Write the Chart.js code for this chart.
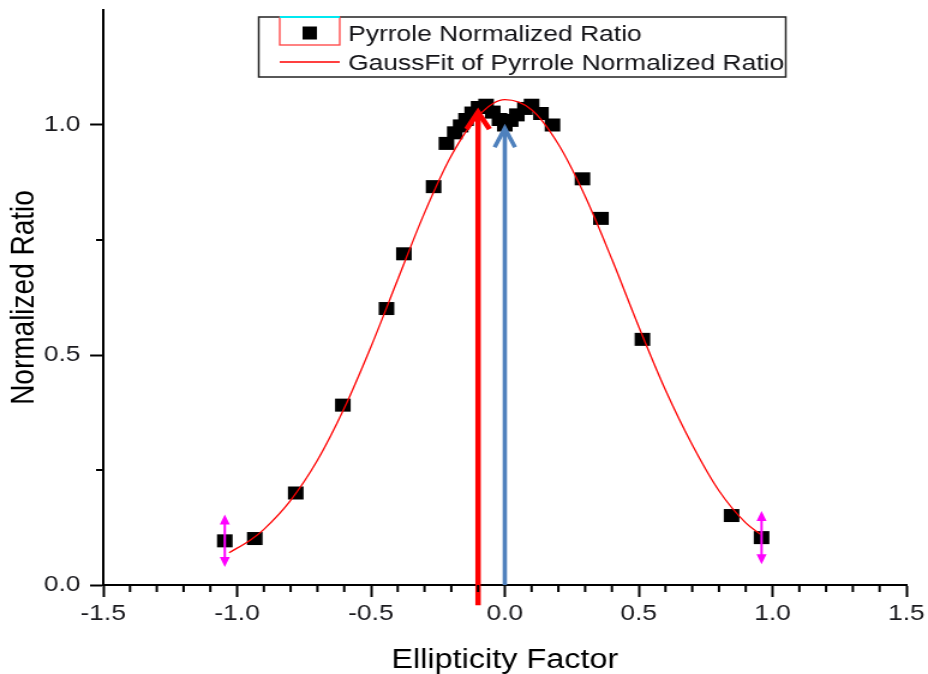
<!DOCTYPE html>
<html>
<head>
<meta charset="utf-8">
<title>Pyrrole Normalized Ratio</title>
<script src="https://cdn.jsdelivr.net/npm/chart.js@4.4.1/dist/chart.umd.min.js"></script>
<style>
  html, body { margin: 0; padding: 0; background: #fff; overflow: hidden; }
  /* the plot is laid out on a narrower canvas and widened horizontally */
  #wrap { width: 773px; height: 674px; transform: scaleX(1.2005); transform-origin: 0 0; }
</style>
</head>
<body>
<div id="wrap"><canvas id="chart"></canvas></div>
<script>
// measured points: ellipticity factor vs normalized ratio
const pointX = [-1.046, -0.934, -0.781, -0.605, -0.442, -0.377, -0.266, -0.218, -0.187, -0.165,
                -0.145, -0.122, -0.098, -0.070, -0.045, -0.020, 0.000, 0.022, 0.045, 0.075,
                 0.100, 0.135, 0.178, 0.290, 0.359, 0.514, 0.847, 0.959];
const pointY = [0.096, 0.101, 0.200, 0.391, 0.601, 0.720, 0.866, 0.960, 0.983, 0.998,
                1.012, 1.026, 1.038, 1.043, 1.028, 1.012, 1.000, 1.010, 1.022, 1.036,
                1.043, 1.025, 1.000, 0.883, 0.797, 0.534, 0.151, 0.103];

// Gaussian fit curve
const fitX = [-1.03, -0.95, -0.90, -0.80, -0.70, -0.60, -0.50, -0.40, -0.30, -0.20, -0.10,
               0.00, 0.10, 0.20, 0.30, 0.40, 0.50, 0.60, 0.70, 0.80, 0.90, 0.955];
const fitY = [0.070, 0.098, 0.121, 0.184, 0.271, 0.384, 0.518, 0.664, 0.809, 0.933, 1.019,
              1.055, 1.033, 0.958, 0.845, 0.708, 0.562, 0.424, 0.305, 0.205, 0.135, 0.110];

// error bars on the two outermost points
const errorIndex = [0, 27];
const errorDelta = [0.057, 0.058];

// marker arrows: red = fitted centre, blue = zero ellipticity
const arrowX = [-0.10, 0.00];
const arrowTop = [1.028, 0.993];
const arrowBase = [-0.044, 0.000];

const xTicks = [-1.5, -1.0, -0.5, 0.0, 0.5, 1.0, 1.5];
const xMinorTicks = [-1.4, -1.3, -1.2, -1.1, -0.9, -0.8, -0.7, -0.6, -0.4, -0.3, -0.2, -0.1,
                      0.1, 0.2, 0.3, 0.4, 0.6, 0.7, 0.8, 0.9, 1.1, 1.2, 1.3, 1.4];
const yTicks = [0.0, 0.5, 1.0];
const yMinorTicks = [0.25, 0.75];

const legendLabels = ['Pyrrole Normalized Ratio', 'GaussFit of Pyrrole Normalized Ratio'];
const xTitle = 'Ellipticity Factor';
const yTitle = 'Normalized Ratio';

const FONT = '"Liberation Sans", Arial, Helvetica, sans-serif';

const minorTicks = {
  id: 'minorTicks',
  afterDraw(chart) {
    const { ctx, chartArea, scales } = chart;
    ctx.save();
    ctx.strokeStyle = '#000';
    ctx.lineWidth = 2;
    ctx.beginPath();
    xMinorTicks.forEach(v => {
      const px = scales.x.getPixelForValue(v);
      ctx.moveTo(px, chartArea.bottom);
      ctx.lineTo(px, chartArea.bottom + 7);
    });
    yMinorTicks.forEach(v => {
      const py = scales.y.getPixelForValue(v);
      ctx.moveTo(chartArea.left, py);
      ctx.lineTo(chartArea.left - 6, py);
    });
    ctx.stroke();
    ctx.restore();
  }
};

const annotations = {
  id: 'annotations',
  afterDatasetsDraw(chart) {
    const { ctx, scales } = chart;
    const xs = scales.x, ys = scales.y;
    ctx.save();

    // arrows
    const arrowStyle = [
      { color: '#ff0000', width: 4.5, half: 9.5, len: 17 },
      { color: '#4f81bd', width: 3.6, half: 8.5, len: 19 }
    ];
    arrowX.forEach((v, i) => {
      const st = arrowStyle[i];
      const px = xs.getPixelForValue(v);
      const top = ys.getPixelForValue(arrowTop[i]);
      const base = ys.getPixelForValue(arrowBase[i]);
      ctx.strokeStyle = st.color;
      ctx.lineWidth = st.width;
      ctx.lineCap = 'butt';
      ctx.beginPath();
      ctx.moveTo(px, base);
      ctx.lineTo(px, top + 1);
      ctx.stroke();
      ctx.lineJoin = 'miter';
      ctx.beginPath();
      ctx.moveTo(px - st.half, top + st.len);
      ctx.lineTo(px, top);
      ctx.lineTo(px + st.half, top + st.len);
      ctx.stroke();
    });

    // error bars
    ctx.strokeStyle = '#ff00ff';
    ctx.fillStyle = '#ff00ff';
    ctx.lineWidth = 2;
    errorIndex.forEach((idx, i) => {
      const px = xs.getPixelForValue(pointX[idx]);
      const yHi = ys.getPixelForValue(pointY[idx] + errorDelta[i]);
      const yLo = ys.getPixelForValue(pointY[idx] - errorDelta[i]);
      ctx.beginPath();
      ctx.moveTo(px, yHi + 4);
      ctx.lineTo(px, yLo - 4);
      ctx.stroke();
      ctx.beginPath();
      ctx.moveTo(px, yHi);
      ctx.lineTo(px - 4.2, yHi + 10);
      ctx.lineTo(px + 4.2, yHi + 10);
      ctx.closePath();
      ctx.moveTo(px, yLo);
      ctx.lineTo(px - 4.2, yLo - 10);
      ctx.lineTo(px + 4.2, yLo - 10);
      ctx.closePath();
      ctx.fill();
    });
    ctx.restore();
  }
};

const boxLegend = {
  id: 'boxLegend',
  afterDraw(chart) {
    const ctx = chart.ctx;
    ctx.save();
    // frame
    ctx.strokeStyle = '#222';
    ctx.lineWidth = 1.5;
    ctx.strokeRect(215.5, 17, 439, 60);
    // symbol frame of the first entry
    ctx.strokeStyle = '#ff4040';
    ctx.lineWidth = 1.3;
    ctx.strokeRect(233, 17, 50, 28);
    ctx.strokeStyle = '#00e8f0';
    ctx.lineWidth = 2;
    ctx.beginPath();
    ctx.moveTo(233, 17);
    ctx.lineTo(283, 17);
    ctx.stroke();
    // square marker
    ctx.fillStyle = '#000';
    ctx.fillRect(252, 26.5, 12, 13);
    // fit line
    ctx.strokeStyle = '#ff0000';
    ctx.lineWidth = 1.5;
    ctx.beginPath();
    ctx.moveTo(233, 62);
    ctx.lineTo(283, 62);
    ctx.stroke();
    // labels
    ctx.fillStyle = '#141418';
    ctx.font = '22px ' + FONT;
    ctx.textAlign = 'left';
    ctx.textBaseline = 'alphabetic';
    ctx.fillText(legendLabels[0], 290, 40.5);
    ctx.fillText(legendLabels[1], 290, 69.5);
    ctx.restore();
  }
};

new Chart(document.getElementById('chart'), {
  type: 'scatter',
  data: {
    datasets: [
      {
        label: legendLabels[1],
        data: fitX.map((x, i) => ({ x, y: fitY[i] })),
        showLine: true,
        borderColor: '#ff0000',
        borderWidth: 1.3,
        pointRadius: 0,
        cubicInterpolationMode: 'monotone',
        fill: false,
        order: 0
      },
      {
        label: legendLabels[0],
        data: pointX.map((x, i) => ({ x, y: pointY[i] })),
        showLine: false,
        pointStyle: 'rect',
        pointRadius: 9.2,
        backgroundColor: '#000',
        borderColor: '#000',
        borderWidth: 0,
        order: 1
      }
    ]
  },
  options: {
    responsive: true,
    maintainAspectRatio: false,
    animation: false,
    devicePixelRatio: 1,
    layout: { padding: { top: 10, right: 18, left: 0, bottom: 0 } },
    plugins: {
      legend: { display: false },
      tooltip: { enabled: false },
      title: { display: false }
    },
    scales: {
      x: {
        type: 'linear',
        min: -1.5,
        max: 1.5,
        afterBuildTicks: s => { s.ticks = xTicks.map(v => ({ value: v })); },
        afterFit: s => { s.height = 89; s.paddingLeft = 0; s.paddingRight = 0; },
        grid: { display: true, drawOnChartArea: false, drawTicks: true, tickLength: 12, tickWidth: 2, tickColor: '#000' },
        border: { display: true, color: '#000', width: 2 },
        ticks: {
          autoSkip: false, maxRotation: 0, padding: 4,
          color: '#1a1a1e',
          font: { family: FONT, size: 22 },
          callback: v => Number(v).toFixed(1)
        },
        title: {
          display: true, text: xTitle, color: '#000',
          font: { family: FONT, size: 27, lineHeight: 1 },
          padding: { top: 0, bottom: 0 }
        }
      },
      y: {
        type: 'linear',
        min: 0,
        max: 1.25,
        afterBuildTicks: s => { s.ticks = yTicks.map(v => ({ value: v })); },
        afterFit: s => { s.width = 86; s.paddingTop = 0; s.paddingBottom = 0; },
        grid: { display: true, drawOnChartArea: false, drawTicks: true, tickLength: 11, tickWidth: 2, tickColor: '#000' },
        border: { display: true, color: '#000', width: 2 },
        ticks: {
          padding: 8,
          color: '#1a1a1e',
          font: { family: FONT, size: 22 },
          callback: v => Number(v).toFixed(1)
        },
        title: {
          display: true, text: yTitle, color: '#000',
          font: { family: FONT, size: 28, lineHeight: 1 },
          padding: { top: 6, bottom: 0 }
        }
      }
    }
  },
  plugins: [minorTicks, annotations, boxLegend]
});
</script>
</body>
</html>
